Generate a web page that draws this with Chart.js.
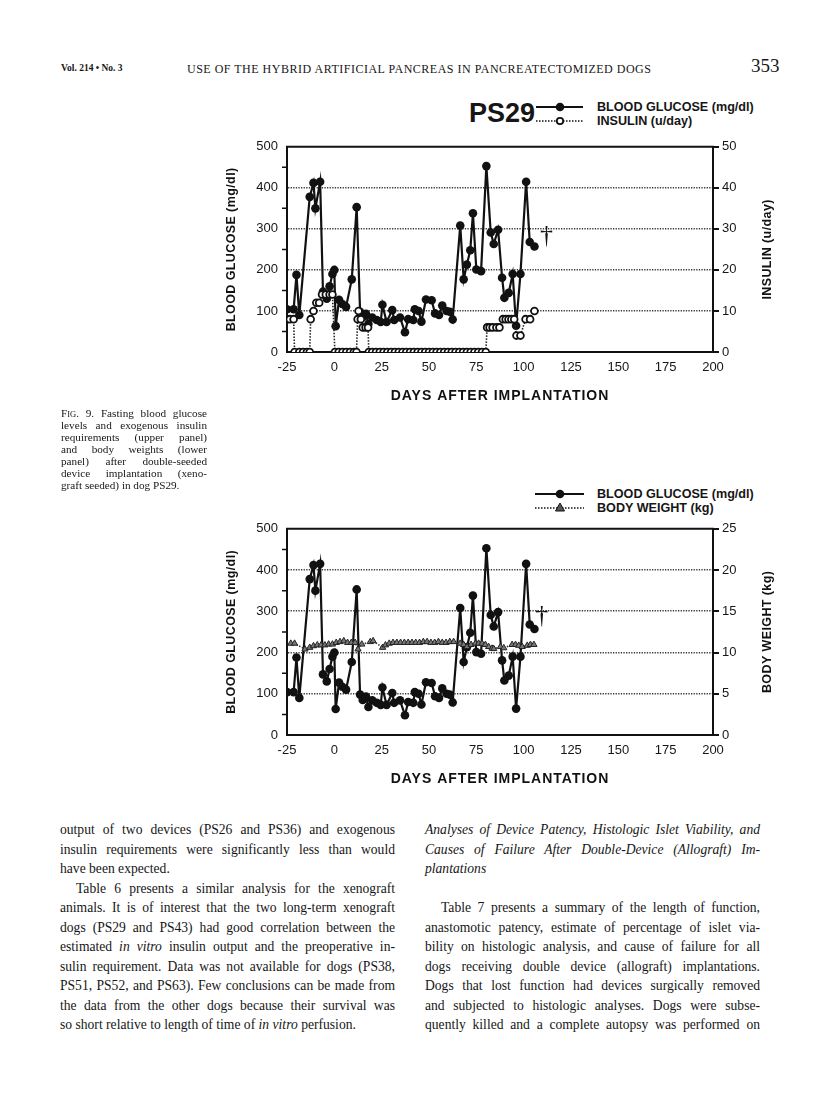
<!DOCTYPE html>
<html>
<head>
<meta charset="utf-8">
<script src="https://cdn.jsdelivr.net/npm/chart.js@4.4.1/dist/chart.umd.min.js"></script>
<style>
body { margin: 0; background: #fff; }
#page { position: relative; width: 816px; height: 1114px; overflow: hidden; font-family: "Liberation Serif", serif; color: #161616; }
.abs { position: absolute; white-space: nowrap; }
.sans { font-family: "Liberation Sans", Arial, sans-serif; font-weight: bold; }
.cap { left: 61px; width: 146px; font-size: 11.2px; line-height: 12px; }
.body { width: 335px; font-size: 13.6px; line-height: 18px; }
.j { text-align: justify; text-align-last: justify; }
.leg { font-size: 12.6px; line-height: 14px; }
canvas { position: absolute; }
</style>
</head>
<body>
<div id="page">
  <!-- running head -->
  <div class="abs" style="left:61px;top:63px;font-size:9.5px;font-weight:bold;">Vol. 214 • No. 3</div>
  <div class="abs" style="left:187px;top:62px;font-size:12px;letter-spacing:0.5px;">USE OF THE HYBRID ARTIFICIAL PANCREAS IN PANCREATECTOMIZED DOGS</div>
  <div class="abs" style="left:751px;top:55px;font-size:19px;">353</div>

  <!-- top legend -->
  <div class="abs sans" style="left:469px;top:98px;font-size:27px;line-height:30px;">PS29</div>
  <svg class="abs" style="left:535px;top:99px" width="50" height="30">
    <line x1="1" y1="8" x2="48" y2="8" stroke="#111" stroke-width="2"/>
    <circle cx="25" cy="8" r="4.3" fill="#111"/>
    <line x1="1" y1="22" x2="48" y2="22" stroke="#111" stroke-width="1.6" stroke-dasharray="1.5,1.5"/>
    <circle cx="25" cy="22" r="3.2" fill="#fff" stroke="#111" stroke-width="1.8"/>
  </svg>
  <div class="abs sans leg" style="left:597px;top:100px;">BLOOD GLUCOSE (mg/dl)</div>
  <div class="abs sans leg" style="left:597px;top:114px;">INSULIN (u/day)</div>

  <canvas id="topChart" width="600" height="290" style="left:200px;top:130px;"></canvas>

  <!-- caption -->
  <div class="abs cap j" style="top:407px;">F<span style="font-size:8.5px">IG</span>. 9. Fasting blood glucose</div>
  <div class="abs cap j" style="top:419px;">levels and exogenous insulin</div>
  <div class="abs cap j" style="top:431px;">requirements (upper panel)</div>
  <div class="abs cap j" style="top:443px;">and body weights (lower</div>
  <div class="abs cap j" style="top:455px;">panel) after double-seeded</div>
  <div class="abs cap j" style="top:467px;">device implantation (xeno-</div>
  <div class="abs cap" style="top:479px;">graft seeded) in dog PS29.</div>

  <!-- bottom legend -->
  <svg class="abs" style="left:534px;top:486px" width="52" height="30">
    <line x1="1" y1="8" x2="50" y2="8" stroke="#111" stroke-width="2"/>
    <circle cx="26" cy="8" r="4.3" fill="#111"/>
    <line x1="1" y1="22" x2="50" y2="22" stroke="#111" stroke-width="1.6" stroke-dasharray="1.5,1.5"/>
    <polygon points="26,17 30.5,25 21.5,25" fill="#555" stroke="#111" stroke-width="1"/>
  </svg>
  <div class="abs sans leg" style="left:597px;top:487px;">BLOOD GLUCOSE (mg/dl)</div>
  <div class="abs sans leg" style="left:597px;top:501px;">BODY WEIGHT (kg)</div>

  <canvas id="bottomChart" width="600" height="291" style="left:200px;top:512px;"></canvas>

  <!-- left column -->
  <div class="abs body j" style="left:60px;top:821px;">output of two devices (PS26 and PS36) and exogenous</div>
  <div class="abs body j" style="left:60px;top:841px;">insulin requirements were significantly less than would</div>
  <div class="abs body" style="left:60px;top:860px;">have been expected.</div>
  <div class="abs body j" style="left:60px;top:880px;width:319px;padding-left:16px;">Table 6 presents a similar analysis for the xenograft</div>
  <div class="abs body j" style="left:60px;top:899px;">animals. It is of interest that the two long-term xenograft</div>
  <div class="abs body j" style="left:60px;top:919px;">dogs (PS29 and PS43) had good correlation between the</div>
  <div class="abs body j" style="left:60px;top:938px;">estimated <i>in vitro</i> insulin output and the preoperative in-</div>
  <div class="abs body j" style="left:60px;top:958px;">sulin requirement. Data was not available for dogs (PS38,</div>
  <div class="abs body j" style="left:60px;top:977px;">PS51, PS52, and PS63). Few conclusions can be made from</div>
  <div class="abs body j" style="left:60px;top:997px;">the data from the other dogs because their survival was</div>
  <div class="abs body" style="left:60px;top:1016px;">so short relative to length of time of <i>in vitro</i> perfusion.</div>

  <!-- right column -->
  <div class="abs body j" style="left:425px;top:821px;"><i>Analyses of Device Patency, Histologic Islet Viability, and</i></div>
  <div class="abs body j" style="left:425px;top:841px;"><i>Causes of Failure After Double-Device (Allograft) Im-</i></div>
  <div class="abs body" style="left:425px;top:860px;"><i>plantations</i></div>
  <div class="abs body j" style="left:425px;top:899px;width:319px;padding-left:16px;">Table 7 presents a summary of the length of function,</div>
  <div class="abs body j" style="left:425px;top:919px;">anastomotic patency, estimate of percentage of islet via-</div>
  <div class="abs body j" style="left:425px;top:938px;">bility on histologic analysis, and cause of failure for all</div>
  <div class="abs body j" style="left:425px;top:958px;">dogs receiving double device (allograft) implantations.</div>
  <div class="abs body j" style="left:425px;top:977px;">Dogs that lost function had devices surgically removed</div>
  <div class="abs body j" style="left:425px;top:997px;">and subjected to histologic analyses. Dogs were subse-</div>
  <div class="abs body j" style="left:425px;top:1016px;">quently killed and a complete autopsy was performed on</div>
</div>

<script>
// fasting blood glucose (mg/dl), same series in both panels
const glucoseDays = [-25, -21.5, -20, -18.5, -13, -11, -10, -7.5, -6, -4, -2.5, -1, 0, 0.7, 2.5, 4.2,
  6.2, 9.2, 11.8, 13.6, 15, 16.7, 18, 20, 22.4, 24.5, 25.4, 27.6, 30.6, 31.6, 34.7, 37.3,
  39, 41.7, 42.5, 44.5, 46, 48.4, 51.4, 53.2, 55.3, 57, 59.3, 61, 62.5, 66.5, 68.3, 70,
  71.8, 73.2, 75, 77.5, 80.3, 82.6, 84.2, 86.5, 88.6, 89.8, 92.1, 94.2, 96, 98.3, 101.3, 103.2, 105.7];
const glucoseValues = [104, 104, 188, 90, 378, 412, 350, 415, 147, 130, 160, 190, 200, 63, 127, 117,
  110, 177, 353, 98, 85, 93, 68, 84, 78, 73, 115, 73, 102, 78, 84, 48,
  80, 78, 104, 100, 74, 128, 126, 94, 90, 113, 100, 98, 79, 308, 177, 213,
  248, 338, 201, 197, 453, 291, 263, 298, 181, 132, 144, 190, 64, 190, 415, 268, 257];

// exogenous insulin (u/day), upper panel
const insulinDays = [-25, -23.5, -21.5, -21, -18.5, -16.5, -14.5, -13, -12.5, -11, -9.5, -8, -6.5, -4.5, -2.5, -1,
  0.3, 2.3, 4.3, 6.3, 8.3, 10.3, 11.7, 12.3, 12.8, 14, 15, 16.5, 17.8, 18.2,
  20, 22, 24, 26, 28, 30, 32, 34, 36, 38, 40, 42, 44, 46, 48, 50, 52, 54, 56, 58, 60,
  62, 64, 66, 68, 70, 72, 74, 76, 78, 80,
  80.7, 82, 83.6, 85.6, 87.2, 89, 90.5, 92, 93.5, 95, 96.2, 98.3, 101, 103.4, 105.7];
const insulinValues = [8, 8, 8, 0, 0, 0, 0, 0, 8, 10, 12, 12, 14, 14, 14, 14,
  0, 0, 0, 0, 0, 0, 0, 8, 10, 8, 6, 6, 6, 0,
  0, 0, 0, 0, 0, 0, 0, 0, 0, 0, 0, 0, 0, 0, 0, 0, 0, 0, 0, 0, 0,
  0, 0, 0, 0, 0, 0, 0, 0, 0, 0,
  6, 6, 6, 6, 6, 8, 8, 8, 8, 8, 4, 4, 8, 8, 10];

// body weight (kg), lower panel
const weightDays = [-23, -21, -15.5, -13, -11, -9, -7, -5, -3, -1, 1, 3, 5, 7, 9, 11, 12.5, 14.5, 19, 20.5,
  25.5, 27, 29, 31, 33, 35, 37, 39, 41, 43, 45, 47, 49, 51, 53, 55, 57, 59, 61, 63,
  66.5, 68.3, 70.1, 72.2, 74.5, 76.2, 78, 79.8, 81.5, 83.3, 84.2, 87.7, 89.5, 93.9, 95.7, 97.4, 99.2, 101.9, 103.6, 105.4];
const weightValues = [11.1, 11.1, 10.4, 10.6, 10.8, 10.9, 10.9, 10.9, 11.0, 11.0, 11.2, 11.3, 11.4, 11.2, 11.2, 11.2, 10.4, 11.0, 11.3, 11.4,
  10.6, 10.9, 11.1, 11.2, 11.2, 11.2, 11.2, 11.2, 11.2, 11.2, 11.2, 11.3, 11.3, 11.2, 11.2, 11.3, 11.2, 11.2, 11.3, 11.3,
  11.1, 10.95, 10.7, 10.95, 11.1, 11.1, 11.1, 10.95, 10.7, 10.5, 10.45, 10.7, 10.55, 10.95, 10.95, 10.85, 10.7, 10.85, 10.95, 10.95];

// x axis and left axis ticks
const dayTicks = [-25, 0, 25, 50, 75, 100, 125, 150, 175, 200];
const glucoseMinorTicks = [50, 150, 250, 350, 450];

// death marker (dagger) position
const topDagger = { day: 112, glucose: 282 };
const bottomDagger = { day: 109.5, glucose: 288 };

Chart.defaults.font.family = '"Liberation Sans", Arial, sans-serif';
Chart.defaults.color = '#161616';

function toPoints(xs, ys) {
  return xs.map((x, i) => ({ x: x, y: ys[i] }));
}

// frame top, minor ticks, axis titles and dagger
const decorPlugin = {
  id: 'decor',
  afterDraw(chart, args, opts) {
    const ctx = chart.ctx, a = chart.chartArea;
    const ys = chart.scales.y, xs = chart.scales.x;
    ctx.save();
    ctx.strokeStyle = '#111';
    ctx.lineWidth = 2;
    ctx.beginPath();
    ctx.moveTo(a.left - 1, a.top);
    ctx.lineTo(a.right + 1, a.top);
    ctx.stroke();
    ctx.lineWidth = 1.5;
    ctx.beginPath();
    glucoseMinorTicks.forEach(v => {
      const py = ys.getPixelForValue(v);
      ctx.moveTo(a.left - 5, py);
      ctx.lineTo(a.left, py);
    });
    ctx.stroke();

    ctx.fillStyle = '#111';
    ctx.textAlign = 'center';
    ctx.textBaseline = 'middle';
    ctx.font = 'bold 14px "Liberation Sans"';
    ctx.letterSpacing = '1px';
    ctx.fillText('DAYS AFTER IMPLANTATION', (a.left + a.right) / 2, a.bottom + 44);

    ctx.font = 'bold 12.5px "Liberation Sans"';
    ctx.letterSpacing = '0.4px';
    ctx.save();
    ctx.translate(a.left - 55, (a.top + a.bottom) / 2);
    ctx.rotate(-Math.PI / 2);
    ctx.fillText('BLOOD GLUCOSE (mg/dl)', 0, 0);
    ctx.restore();
    ctx.save();
    ctx.translate(a.right + 55, (a.top + a.bottom) / 2);
    ctx.rotate(-Math.PI / 2);
    ctx.fillText(opts.rightTitle, 0, 0);
    ctx.restore();

    ctx.letterSpacing = '0px';
    ctx.font = '26px "Liberation Serif"';
    ctx.fillText('†', xs.getPixelForValue(opts.dagger.day), ys.getPixelForValue(opts.dagger.glucose));
    ctx.restore();
  }
};

function makeChart(id, second, rightMax, rightStep, rightTitle, dagger) {
  return new Chart(document.getElementById(id), {
    type: 'line',
    data: {
      datasets: [
        second,
        {
          data: toPoints(glucoseDays, glucoseValues),
          yAxisID: 'y',
          borderColor: '#111',
          borderWidth: 2.2,
          pointRadius: 4.3,
          pointBackgroundColor: '#111',
          pointBorderWidth: 0,
          tension: 0,
          order: 1
        }
      ]
    },
    options: {
      responsive: false,
      devicePixelRatio: 1,
      animation: false,
      layout: { padding: { top: 15, bottom: 0, left: 0, right: 0 } },
      plugins: {
        legend: { display: false },
        tooltip: { enabled: false },
        decor: { rightTitle: rightTitle, dagger: dagger }
      },
      scales: {
        x: {
          type: 'linear',
          min: -25,
          max: 200,
          afterBuildTicks: s => { s.ticks = dayTicks.map(v => ({ value: v })); },
          afterFit: s => { s.height = 68; },
          grid: { display: false, drawTicks: false },
          border: { display: true, color: '#111', width: 2 },
          ticks: { padding: 8, font: { size: 13 }, maxRotation: 0 }
        },
        y: {
          position: 'left',
          min: 0,
          max: 500,
          afterFit: s => { s.width = 87; },
          ticks: { stepSize: 100, padding: 9, font: { size: 13 } },
          grid: {
            drawTicks: false,
            lineWidth: 1.6,
            color: c => (c.tick && (c.tick.value === 0 || c.tick.value === 500)) ? 'rgba(0,0,0,0)' : '#3a3a3a'
          },
          border: { display: true, color: '#111', width: 2, dash: [1.3, 1.3] }
        },
        y2: {
          position: 'right',
          min: 0,
          max: rightMax,
          afterFit: s => { s.width = 87; },
          ticks: { stepSize: rightStep, padding: 3, font: { size: 13 } },
          grid: { drawOnChartArea: false, drawTicks: true, tickLength: 6, color: '#111', lineWidth: 2 },
          border: { display: true, color: '#111', width: 2 }
        }
      }
    },
    plugins: [decorPlugin]
  });
}

makeChart('topChart', {
  data: toPoints(insulinDays, insulinValues),
  yAxisID: 'y2',
  borderColor: '#222',
  borderWidth: 1.6,
  borderDash: [1.5, 1.5],
  pointRadius: 3.4,
  pointBackgroundColor: '#fff',
  pointBorderColor: '#111',
  pointBorderWidth: 1.8,
  tension: 0,
  order: 0
}, 50, 10, 'INSULIN (u/day)', topDagger);

makeChart('bottomChart', {
  data: toPoints(weightDays, weightValues),
  yAxisID: 'y2',
  borderColor: '#333',
  borderWidth: 1.5,
  borderDash: [1.5, 1.5],
  pointStyle: 'triangle',
  pointRadius: 3.6,
  pointBackgroundColor: '#777',
  pointBorderColor: '#222',
  pointBorderWidth: 1,
  tension: 0,
  order: 0
}, 25, 5, 'BODY WEIGHT (kg)', bottomDagger);
</script>
</body>
</html>
